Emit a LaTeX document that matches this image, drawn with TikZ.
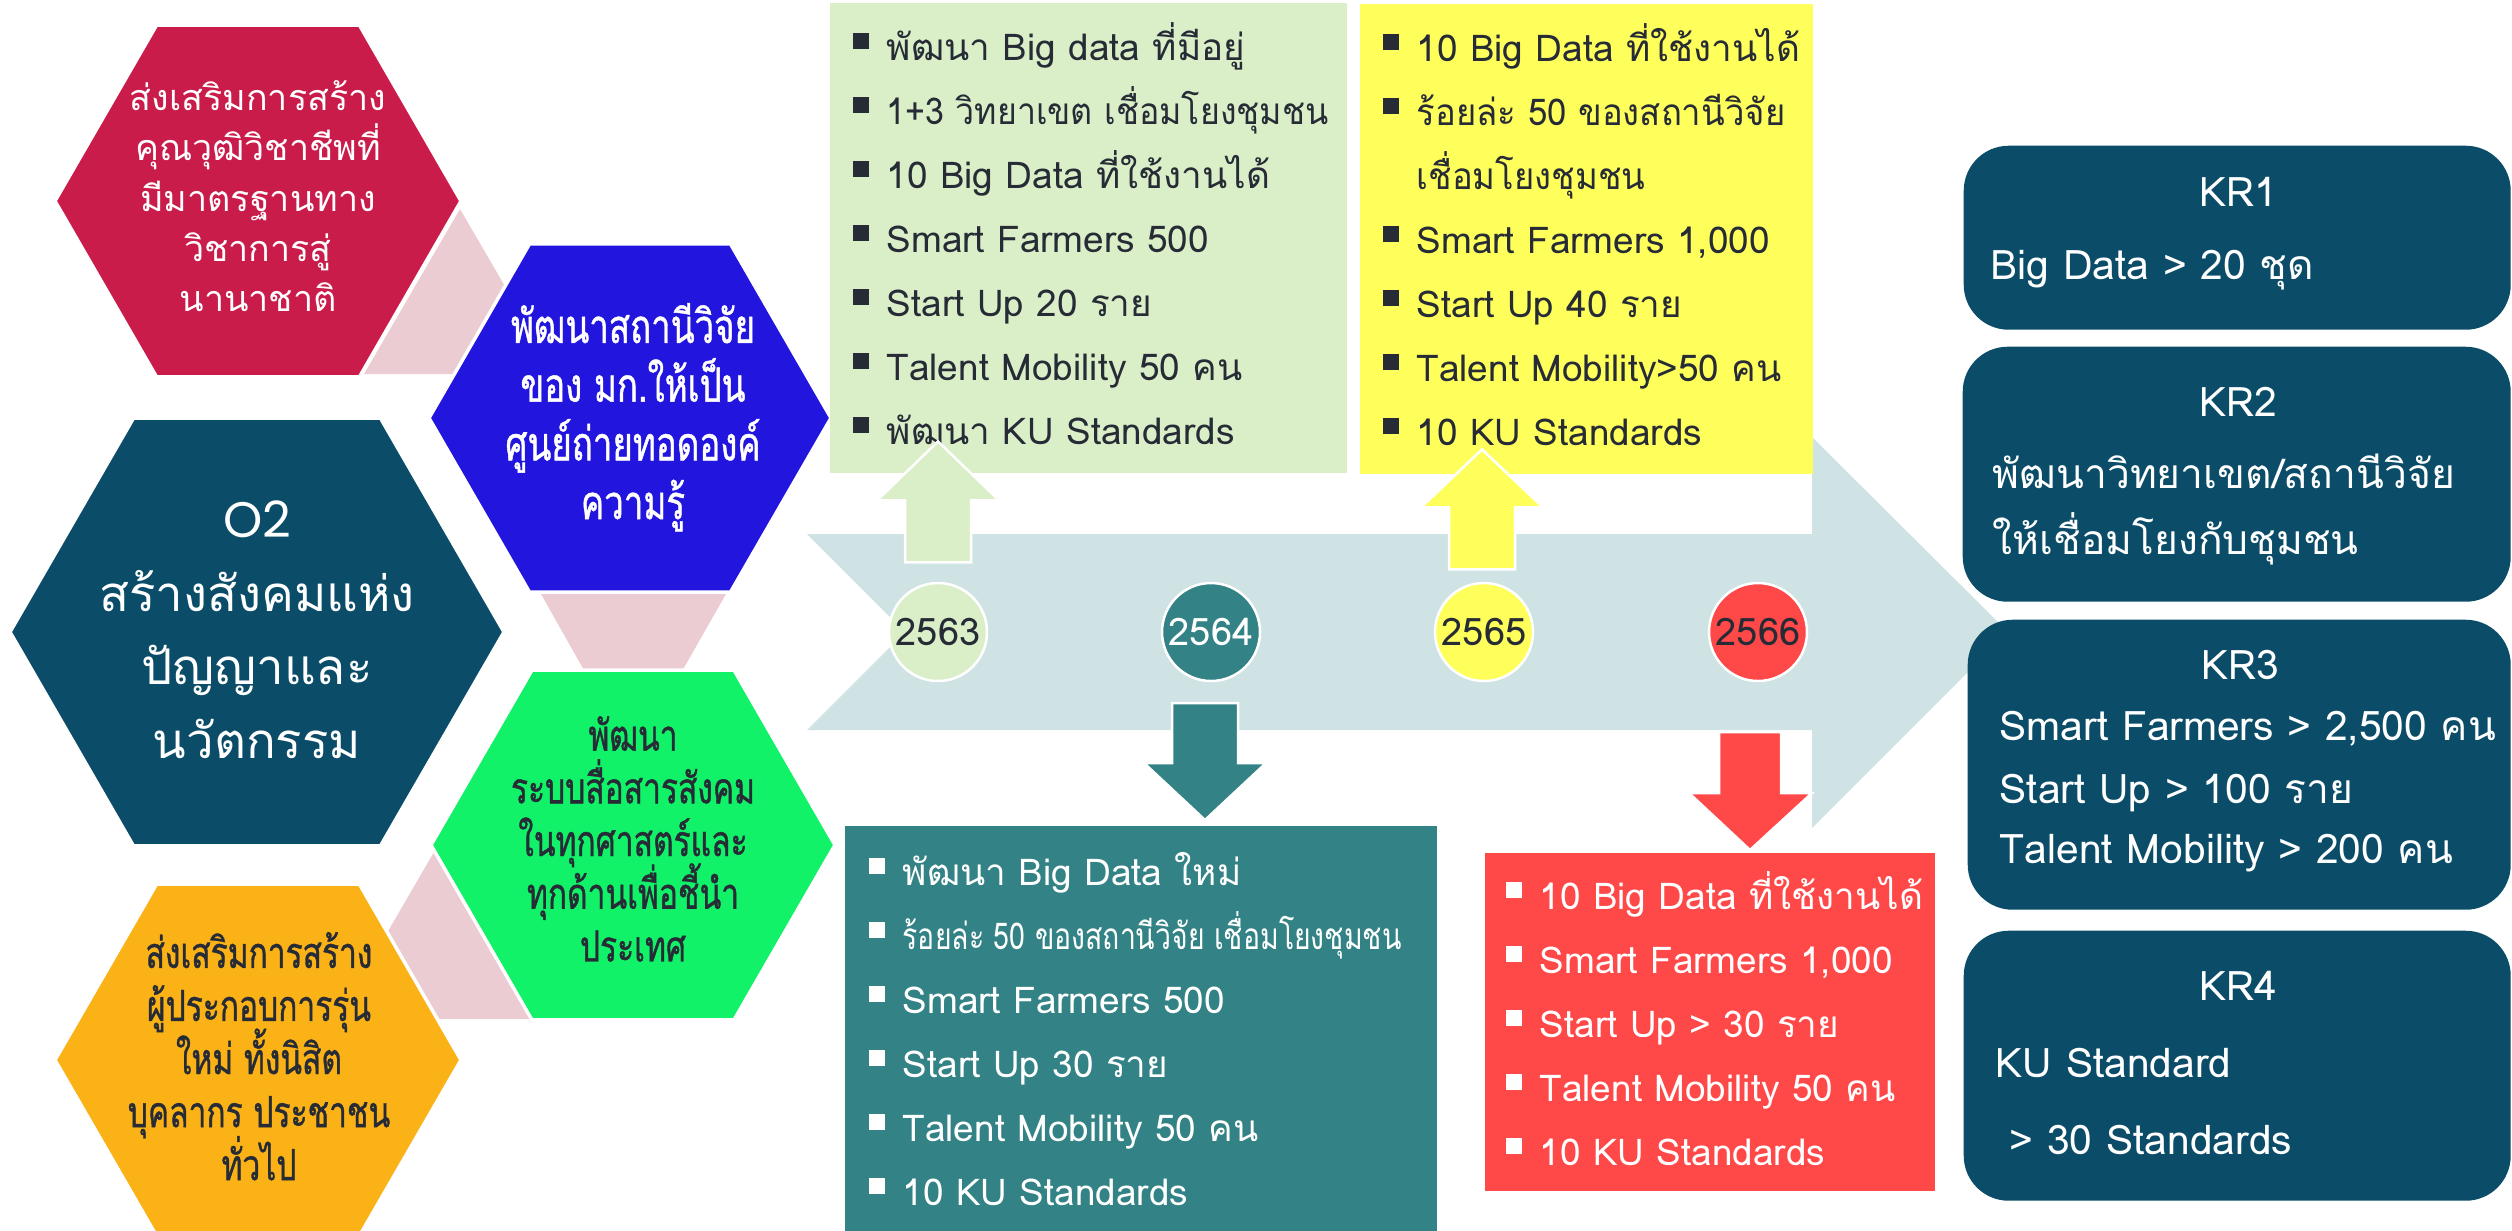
\documentclass[tikz,border=0pt]{standalone}
\usepackage{fontspec}
\usepackage{graphicx}
\usetikzlibrary{shapes.geometric,calc}

\newfontfamily\thaifont[Script=Thai]{Loma}
\newfontfamily\condfont[Script=Thai,FakeStretch=0.74,FakeBold=0.9]{Loma}
\newfontfamily\geofont{Poppins}

\definecolor{hexred}{RGB}{201,28,74}
\definecolor{hexblue}{RGB}{34,21,222}
\definecolor{deepteal}{RGB}{11,77,104}
\definecolor{hexgreen}{RGB}{18,242,104}
\definecolor{hexorange}{RGB}{250,178,23}
\definecolor{rosy}{RGB}{234,204,210}
\definecolor{bandgray}{RGB}{207,226,228}
\definecolor{boxgreen}{RGB}{218,239,200}
\definecolor{boxyellow}{RGB}{255,255,91}
\definecolor{boxteal}{RGB}{51,130,133}
\definecolor{boxred}{RGB}{255,72,72}
\definecolor{textdark}{RGB}{38,43,54}

\newcommand\listmark{\rule{0pt}{5mm}\rule[1.2mm]{1.6mm}{1.6mm}\hspace{1.8mm}}
\newcommand\listgap{\rule{0pt}{5mm}\hspace{3.4mm}}
\newcommand\rowstrut{\rule[-5mm]{0pt}{10mm}}
\lineskiplimit=-100pt

\begin{document}
\begin{tikzpicture}[x=0.1mm, y=-0.1mm,
  hexa/.style={regular polygon, regular polygon sides=6, draw=white, line width=0.35mm, inner sep=0pt},
  hextxt/.style={align=center, inner sep=0pt},
  listbox/.style={rectangle, inner sep=0pt, anchor=north west},
  listtxt/.style={align=left, inner sep=0pt, anchor=north west, font=\thaifont\fontsize{10.5}{18.2}\selectfont},
  yearnode/.style={circle, draw=white, line width=0.25mm, minimum size=9.8mm, inner sep=0pt, text=textdark, font=\thaifont\fontsize{10.8}{12}\selectfont},
  blockarr/.style={draw=white, line width=0.25mm},
  krbox/.style={rectangle, rounded corners=4.5mm, fill=deepteal, inner sep=0pt, anchor=north west},
  krtxt/.style={text=white, inner sep=0pt, font=\thaifont\fontsize{11.6}{14}\selectfont}]

\useasboundingbox (0,0) rectangle (2512,1230);

% rosy pieces behind the hexagons
\fill[rosy] (460,209) -- (556,374) -- (364,374) -- cycle;
\fill[rosy] (541,594) -- (726,594) -- (633,757) -- cycle;
\fill[rosy] (434,852) -- (531,1019) -- (337,1019) -- cycle;

\node[hexa, fill=hexred, minimum size=40.6mm] (hred) at (258,201) {};
\node[hexa, fill=hexblue, minimum size=40.2mm] (hblue) at (630,418) {};
\node[hexa, fill=deepteal, minimum size=49.4mm] (hmain) at (257,632) {};
\node[hexa, fill=hexgreen, minimum size=40.4mm] (hgreen) at (633,845) {};
\node[hexa, fill=hexorange, minimum size=40.6mm] (horange) at (258,1060) {};

\node[hextxt, text=white, font=\thaifont\fontsize{10.2}{14.3}\selectfont] (tred) at (258,211)
  {\rowstrut ส่งเสริมการสร้าง\\ \rowstrut คุณวุฒิวิชาชีพที่\\ \rowstrut มีมาตรฐานทาง\\
   \rowstrut วิชาการสู่\\ \rowstrut นานาชาติ};
\node[hextxt, text=white, font=\condfont\fontsize{13.4}{16.7}\selectfont] (tblue) at (633,431)
  {\rowstrut พัฒนาสถานีวิจัย\\ \rowstrut ของ มก.ให้เป็น\\ \rowstrut ศูนย์ถ่ายทอดองค์\\ \rowstrut ความรู้};
\node[hextxt, text=white, font=\thaifont\fontsize{14}{21}\selectfont] (tmain) at (257,648)
  {\rowstrut{\geofont\fontsize{14.2}{21}\selectfont O2}\\ \rowstrut สร้างสังคมแห่ง\\
   \rowstrut ปัญญาและ\\ \rowstrut นวัตกรรม};
\node[hextxt, text=textdark, font=\condfont\fontsize{12.2}{15}\selectfont] (tgreen) at (633,856)
  {\rowstrut พัฒนา\\ \rowstrut ระบบสื่อสารสังคม\\ \rowstrut ในทุกศาสตร์และ\\
   \rowstrut ทุกด้านเพื่อชี้นำ\\ \rowstrut ประเทศ};
\node[hextxt, text=textdark, font=\condfont\fontsize{12.2}{15.1}\selectfont] (torange) at (259,1074)
  {\rowstrut ส่งเสริมการสร้าง\\ \rowstrut ผู้ประกอบการรุ่น\\ \rowstrut ใหม่ ทั้งนิสิต\\
   \rowstrut บุคลากร ประชาชน\\ \rowstrut ทั่วไป};

% timeline arrow
\fill[bandgray] (807,534) -- (1812,534) -- (1812,437) -- (2008,632) -- (1812,828)
  -- (1812,730) -- (807,730) -- (905,632) -- cycle;

\node[listbox, fill=boxgreen, minimum width=51.7mm, minimum height=47mm] (b63) at (829,2) {};
\node[listbox, fill=boxyellow, minimum width=45.3mm, minimum height=47mm] (b65) at (1359,3) {};
\node[listbox, fill=boxteal, minimum width=59.2mm, minimum height=40.5mm] (b64) at (844,825) {};
\node[listbox, fill=boxred, minimum width=45mm, minimum height=33.8mm] (b66) at (1484,852) {};

\node[listtxt, text=textdark] (l63) at (852,10)
  {\listmark พัฒนา Big data ที่มีอยู่\\ \listmark\scalebox{0.92}[1]{1+3 วิทยาเขต เชื่อมโยงชุมชน}\\
   \listmark 10 Big Data ที่ใช้งานได้\\ \listmark Smart Farmers 500\\ \listmark Start Up 20 ราย\\
   \listmark Talent Mobility 50 คน\\ \listmark พัฒนา KU Standards};
\node[listtxt, text=textdark] (l65) at (1382,11)
  {\listmark 10 Big Data ที่ใช้งานได้\\ \listmark\scalebox{0.94}[1]{ร้อยล่ะ 50 ของสถานีวิจัย}\\
   \listgap\scalebox{0.94}[1]{เชื่อมโยงชุมชน}\\
   \listmark Smart Farmers 1,000\\ \listmark Start Up 40 ราย\\
   \listmark Talent Mobility>50 คน\\ \listmark 10 KU Standards};
\node[listtxt, text=white] (l64) at (868,835)
  {\listmark พัฒนา Big Data ใหม่\\ \listmark\scalebox{0.77}[1]{ร้อยล่ะ 50 ของสถานีวิจัย เชื่อมโยงชุมชน}\\
   \listmark Smart Farmers 500\\ \listmark Start Up 30 ราย\\
   \listmark Talent Mobility 50 คน\\ \listmark 10 KU Standards};
\node[listtxt, text=white] (l66) at (1505,859)
  {\listmark 10 Big Data ที่ใช้งานได้\\ \listmark Smart Farmers 1,000\\ \listmark Start Up > 30 ราย\\
   \listmark Talent Mobility 50 คน\\ \listmark 10 KU Standards};

\node[yearnode, fill=boxgreen] (y63) at (938,632) {2563};
\node[yearnode, fill=boxteal, text=white] (y64) at (1211,632) {2564};
\node[yearnode, fill=boxyellow] (y65) at (1484,632) {2565};
\node[yearnode, fill=boxred] (y66) at (1758,632) {2566};

\filldraw[blockarr, fill=boxgreen] ($(y63 |- b63.south)+(0,-32)$) -- ++(61,59) -- ++(-28,0)
  -- ++(0,62) -- ++(-66,0) -- ++(0,-62) -- ++(-28,0) -- cycle;
\filldraw[blockarr, fill=boxyellow] ($(y65 |- b65.south)+(-2,-25)$) -- ++(61,58) -- ++(-28,0)
  -- ++(0,62) -- ++(-66,0) -- ++(0,-62) -- ++(-28,0) -- cycle;
\filldraw[blockarr, fill=boxteal] ($(y64 |- b64.north)+(-6,-5)$) -- ++(61,-57) -- ++(-28,0)
  -- ++(0,-60) -- ++(-66,0) -- ++(0,60) -- ++(-28,0) -- cycle;
\filldraw[blockarr, fill=boxred] ($(y66 |- b66.north)+(-8,-2)$) -- ++(62,-57) -- ++(-31,0)
  -- ++(0,-61) -- ++(-62,0) -- ++(0,61) -- ++(-30,0) -- cycle;

\node[krbox, minimum width=54.7mm, minimum height=18.4mm] (kr1) at (1963,145) {};
\node[krbox, minimum width=54.8mm, minimum height=25.5mm] (kr2) at (1962,346) {};
\node[krbox, minimum width=54.3mm, minimum height=29mm] (kr3) at (1967,619) {};
\node[krbox, minimum width=54.7mm, minimum height=27mm] (kr4) at (1963,930) {};

\node[krtxt, anchor=base] (kr1h) at (2238,206) {KR1};
\node[krtxt, anchor=base west] (kr1a) at (1990,279) {Big Data > 20 ชุด};
\node[krtxt, anchor=base] (kr2h) at (2238,416) {KR2};
\node[krtxt, anchor=base west] (kr2a) at (1992,488) {พัฒนาวิทยาเขต/สถานีวิจัย};
\node[krtxt, anchor=base west] (kr2b) at (1992,554) {ให้เชื่อมโยงกับชุมชน};
\node[krtxt, anchor=base] (kr3h) at (2240,679) {KR3};
\node[krtxt, anchor=base west] (kr3a) at (1999,740) {Smart Farmers > 2,500 คน};
\node[krtxt, anchor=base west] (kr3b) at (1999,803) {Start Up > 100 ราย};
\node[krtxt, anchor=base west] (kr3c) at (1999,863) {Talent Mobility > 200 คน};
\node[krtxt, anchor=base] (kr4h) at (2238,1000) {KR4};
\node[krtxt, anchor=base west] (kr4a) at (1995,1077) {KU Standard};
\node[krtxt, anchor=base west] (kr4b) at (2009,1154) {> 30 Standards};

\end{tikzpicture}
\end{document}
